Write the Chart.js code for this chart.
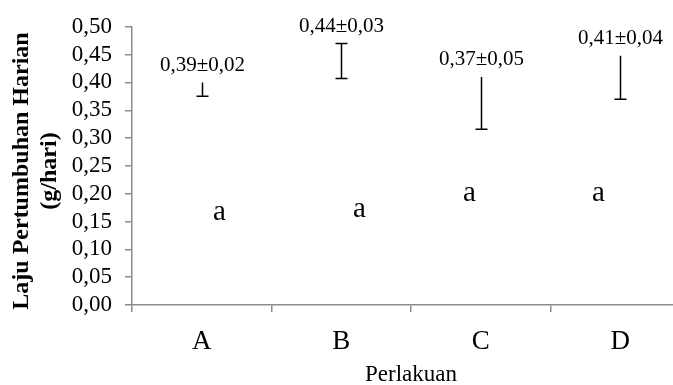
<!DOCTYPE html>
<html>
<head>
<meta charset="utf-8">
<script src="https://cdn.jsdelivr.net/npm/chart.js@4.4.1/dist/chart.umd.min.js"></script>
<style>
  html, body { margin: 0; padding: 0; background: #fff; overflow: hidden; }
  #wrap { width: 690px; height: 385px; }
</style>
</head>
<body>
<div id="wrap"><canvas id="chart" width="690" height="385"></canvas></div>
<script>
const CATEGORIES = ["A", "B", "C", "D"];
const MEANS = [0.39, 0.44, 0.37, 0.41];
const SD = [0.02, 0.03, 0.05, 0.04];
// error bar ends as they appear in the figure
const ERR_HIGH = [0.40, 0.47, 0.41, 0.448];
const ERR_LOW = [0.375, 0.407, 0.316, 0.37];
const TOP_CAP = [false, true, false, false];
const GROUPS = ["a", "a", "a", "a"];
const Y_TICKS = [0, 0.05, 0.1, 0.15, 0.2, 0.25, 0.3, 0.35, 0.4, 0.45, 0.5];
const Y_TITLE = ["Laju Pertumbuhan Harian", "(g/hari)"];

const FONT = '"Liberation Serif", "Times New Roman", serif';
const AXIS_GREY = "#8c8c8c";

const fmt = (v) => v.toFixed(2).replace(".", ",");

// letter placement (x offset px from category centre, y in data units)
const letterPlacement = {
  dx: [17, 18, -12, -22],
  y: [0.166, 0.171, 0.2, 0.2],
};

const annotations = {
  id: "annotations",
  afterDatasetsDraw(chart) {
    const { ctx, scales } = chart;
    const x = scales.x;
    const y = scales.y;
    ctx.save();
    ctx.strokeStyle = "#000";
    ctx.lineWidth = 1.5;
    CATEGORIES.forEach((cat, i) => {
      const cx = Math.round(x.getPixelForValue(i)) + 0.5;
      const top = y.getPixelForValue(ERR_HIGH[i]);
      const bot = y.getPixelForValue(ERR_LOW[i]);
      ctx.beginPath();
      ctx.moveTo(cx, top);
      ctx.lineTo(cx, bot);
      ctx.moveTo(cx - 6, bot);
      ctx.lineTo(cx + 6, bot);
      if (TOP_CAP[i]) {
        ctx.moveTo(cx - 6, top);
        ctx.lineTo(cx + 6, top);
      }
      ctx.stroke();

      ctx.fillStyle = "#000";
      ctx.textAlign = "center";
      ctx.textBaseline = "middle";
      ctx.font = "21px " + FONT;
      ctx.fillText(fmt(MEANS[i]) + "±" + fmt(SD[i]), cx, top - 17);

      ctx.font = "29px " + FONT;
      ctx.fillText(GROUPS[i], cx + letterPlacement.dx[i], y.getPixelForValue(letterPlacement.y[i]));
    });

    // y axis title, two lines, rotated
    ctx.translate(0, 171);
    ctx.rotate(-Math.PI / 2);
    ctx.font = "bold 24px " + FONT;
    ctx.fillText(Y_TITLE[0], 0, 22);
    ctx.fillText(Y_TITLE[1], 0, 50);
    ctx.restore();
  },
};

new Chart(document.getElementById("chart"), {
  type: "bar",
  data: {
    labels: CATEGORIES,
    datasets: [
      {
        data: MEANS,
        backgroundColor: "rgba(255,255,255,0)",
        borderWidth: 0,
      },
    ],
  },
  options: {
    responsive: false,
    animation: false,
    layout: { padding: { top: 23, right: 0, left: 0, bottom: 0 } },
    plugins: {
      legend: { display: false },
      tooltip: { enabled: false },
    },
    scales: {
      x: {
        offset: true,
        grid: {
          offset: true,
          drawOnChartArea: false,
          tickLength: 7,
          color: AXIS_GREY,
          lineWidth: 1.5,
        },
        border: { color: AXIS_GREY, width: 1.5 },
        ticks: {
          color: "#000",
          padding: 14,
          font: { family: FONT, size: 27 },
        },
        title: {
          display: true,
          text: "Perlakuan",
          color: "#000",
          font: { family: FONT, size: 23, lineHeight: 0.85 },
          padding: { top: 0, bottom: 0 },
        },
        afterFit(scale) {
          scale.height = 80;
        },
      },
      y: {
        min: 0,
        max: 0.5,
        afterBuildTicks(scale) {
          scale.ticks = Y_TICKS.map((v) => ({ value: v }));
        },
        grid: {
          drawOnChartArea: false,
          tickLength: 7,
          color: AXIS_GREY,
          lineWidth: 1.5,
        },
        border: { color: AXIS_GREY, width: 1.5 },
        ticks: {
          color: "#000",
          padding: 13,
          autoSkip: false,
          font: { family: FONT, size: 23 },
          callback: (v) => fmt(v),
        },
        afterFit(scale) {
          scale.width = 132;
        },
      },
    },
  },
  plugins: [annotations],
});
</script>
</body>
</html>
